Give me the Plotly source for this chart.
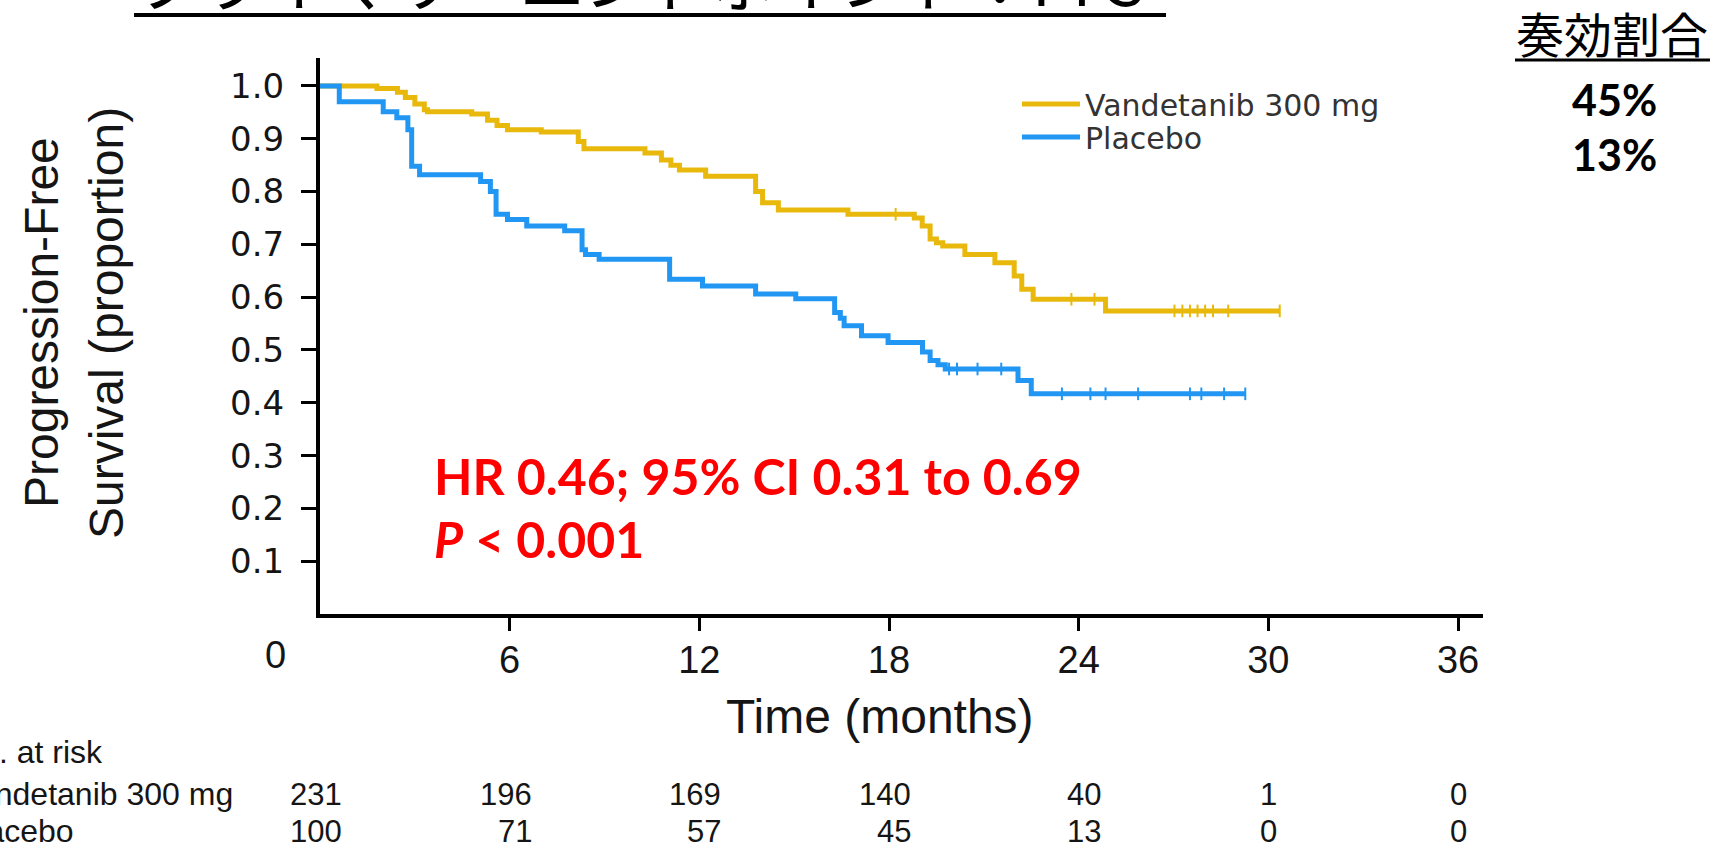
import numpy as np
import plotly.graph_objects as go

# ---------------- data ----------------
vand_t = [0, 1.8, 2.45, 2.7, 3.0, 3.3, 3.4, 4.8, 5.3, 5.6, 5.93, 7.0, 8.17, 8.35,
          10.28, 10.8, 11.1, 11.37, 12.2, 13.78, 14.0, 14.5, 16.7, 18.8, 19.05,
          19.3, 19.5, 19.7, 20.4, 21.35, 21.96, 22.2, 22.56, 24.85, 30.36]
vand_s = [1.0, 0.995, 0.988, 0.978, 0.966, 0.955, 0.951, 0.947, 0.935, 0.925, 0.917,
          0.913, 0.895, 0.881, 0.873, 0.86, 0.85, 0.841, 0.829, 0.80, 0.779, 0.765,
          0.757, 0.75, 0.735, 0.71, 0.703, 0.697, 0.681, 0.665, 0.64, 0.615, 0.596,
          0.574, 0.574]
plac_t = [0, 0.61, 2.0, 2.43, 2.78, 2.9, 3.15, 5.08, 5.39, 5.57, 5.93, 6.54, 7.74,
          8.29, 8.4, 8.83, 11.06, 12.1, 13.78, 15.05, 16.28, 16.46, 16.58, 17.13,
          17.97, 19.06, 19.3, 19.55, 19.78, 22.08, 22.5, 29.27]
plac_s = [1.0, 0.970, 0.951, 0.94, 0.917, 0.848, 0.832, 0.819, 0.80, 0.757, 0.747,
          0.735, 0.726, 0.69, 0.681, 0.672, 0.634, 0.621, 0.606, 0.597, 0.571, 0.56,
          0.546, 0.527, 0.514, 0.496, 0.48, 0.472, 0.464, 0.442, 0.417, 0.417]
vand_censor = [18.21, 23.77, 24.5, 27.03, 27.28, 27.52, 27.76, 28.0, 28.25, 28.73, 30.36]
plac_censor = [19.9, 20.15, 20.8, 21.55, 23.47, 24.37, 24.85, 25.88, 27.52, 27.88, 28.6, 29.27]

risk_times = [0, 6, 12, 18, 24, 30, 36]
risk_vand = [231, 196, 169, 140, 40, 1, 0]
risk_plac = [100, 71, 57, 45, 13, 0, 0]
x_ticks = [6, 12, 18, 24, 30, 36]
y_ticks = [0.1, 0.2, 0.3, 0.4, 0.5, 0.6, 0.7, 0.8, 0.9, 1.0]

YELLOW = "#E8B90C"
BLUE = "#2196F3"
TXT = "#151515"

def step_at(ts, ss, t):
    i = np.searchsorted(np.array(ts), t, side="right") - 1
    return ss[max(i, 0)]

L, R, T, B = 320, 1483, 58, 614
W, H = 1719, 843
PW, PH = R - L, B - T

def px(x):
    return (x - L) / PW

def py(y):
    return (B - y) / PH

fig = go.Figure()
fig.add_trace(go.Scatter(x=vand_t, y=vand_s, mode="lines", line_shape="hv",
                         line=dict(color=YELLOW, width=5), name="Vandetanib 300 mg",
                         legend="legend"))
fig.add_trace(go.Scatter(x=plac_t, y=plac_s, mode="lines", line_shape="hv",
                         line=dict(color=BLUE, width=5), name="Placebo",
                         legend="legend2"))
fig.add_trace(go.Scatter(x=vand_censor, y=[step_at(vand_t, vand_s, t) for t in vand_censor],
                         mode="markers", showlegend=False,
                         marker=dict(symbol="line-ns", size=9, line=dict(color=YELLOW, width=2))))
fig.add_trace(go.Scatter(x=plac_censor, y=[step_at(plac_t, plac_s, t) for t in plac_censor],
                         mode="markers", showlegend=False,
                         marker=dict(symbol="line-ns", size=9, line=dict(color=BLUE, width=2))))

leg_common = dict(xanchor="left", yanchor="middle",
                  font=dict(family="DejaVu Sans", size=30, color="#333333"),
                  bgcolor="rgba(0,0,0,0)", borderwidth=0, itemwidth=58)

fig.update_layout(
    width=W, height=H,
    margin=dict(l=L, r=W - R, t=T, b=H - B, pad=0),
    paper_bgcolor="white", plot_bgcolor="white",
    showlegend=True,
    legend=dict(x=px(1017), y=py(104), **leg_common),
    legend2=dict(x=px(1017), y=py(137), **leg_common),
    xaxis=dict(range=[0, 36.79], tickvals=x_ticks, ticks="outside", ticklen=13,
               tickwidth=3, tickcolor="black", showline=True, linecolor="black",
               linewidth=4, showgrid=False, zeroline=False,
               tickfont=dict(family="Liberation Sans", size=38, color=TXT),
               ticklabelstandoff=-4),
    yaxis=dict(range=[0, 1.053], tickvals=y_ticks, tickformat=".1f", ticks="outside",
               ticklen=15, tickwidth=3, tickcolor="black", showline=True,
               linecolor="black", linewidth=4, showgrid=False, zeroline=False,
               tickfont=dict(family="DejaVu Sans", size=34, color=TXT),
               ticklabelstandoff=10),
)

ann = []
# y axis title (two lines)
ann.append(dict(text="Progression-Free", xref="paper", yref="paper", x=px(41), y=py(323),
                textangle=-90, showarrow=False, xanchor="center", yanchor="middle",
                font=dict(family="Liberation Sans", size=48, color=TXT)))
ann.append(dict(text="Survival (proportion)", xref="paper", yref="paper", x=px(106), y=py(323),
                textangle=-90, showarrow=False, xanchor="center", yanchor="middle",
                font=dict(family="Liberation Sans", size=48, color=TXT)))
# x axis title
ann.append(dict(text="Time (months)", xref="paper", yref="paper", x=px(880), y=py(716),
                showarrow=False, xanchor="center", yanchor="middle",
                font=dict(family="Liberation Sans", size=48, color=TXT)))
# origin label
ann.append(dict(text="0", xref="paper", yref="paper", x=px(275), y=py(655),
                showarrow=False, xanchor="center", yanchor="middle",
                font=dict(family="Liberation Sans", size=38, color=TXT)))
# HR text
ann.append(dict(text="<b>HR 0.46; 95% CI 0.31 to 0.69</b>", xref="paper", yref="paper",
                x=px(432), y=py(476), showarrow=False, xanchor="left", yanchor="middle",
                font=dict(family="Lato", size=50, color="#FF0000")))
ann.append(dict(text="<b><i>P</i> &lt; 0.001</b>", xref="paper", yref="paper",
                x=px(432), y=py(539), showarrow=False, xanchor="left", yanchor="middle",
                font=dict(family="Lato", size=50, color="#FF0000")))
# number at risk table
row_font = dict(family="Liberation Sans", size=32, color=TXT)
for label, yy in [("No. at risk", 752), ("Vandetanib 300 mg", 794), ("Placebo", 831)]:
    ann.append(dict(text=label, xref="paper", yref="paper", x=px(-44), y=py(yy),
                    showarrow=False, xanchor="left", yanchor="middle", font=row_font))
for t, v, p in zip(risk_times, risk_vand, risk_plac):
    multi = max(v, p) >= 10
    for val, yy in [(v, 794), (p, 831)]:
        ann.append(dict(text=str(val), xref="x", yref="paper", x=t, y=py(yy),
                        showarrow=False, xanchor="right" if multi else "center",
                        xshift=24 if multi else 0, yanchor="middle",
                        font=dict(family="Liberation Sans", size=31, color=TXT)))
# title (cropped at top)
ann.append(dict(text="プライマリーエンドポイント：PFS", xref="paper", yref="paper",
                x=px(134), y=py(26), showarrow=False, xanchor="left", yanchor="bottom",
                font=dict(family="Noto Sans CJK JP", size=64, color="black")))
# response rate box
ann.append(dict(text="奏効割合", xref="paper", yref="paper", x=px(1612), y=py(32),
                showarrow=False, xanchor="center", yanchor="middle",
                font=dict(family="Noto Sans CJK JP", size=48, color="black")))
ann.append(dict(text="<b>45%</b>", xref="paper", yref="paper", x=px(1614), y=py(100),
                showarrow=False, xanchor="center", yanchor="middle",
                font=dict(family="Lato", size=43, color="black")))
ann.append(dict(text="<b>13%</b>", xref="paper", yref="paper", x=px(1614), y=py(154),
                showarrow=False, xanchor="center", yanchor="middle",
                font=dict(family="Lato", size=43, color="black")))
fig.update_layout(annotations=ann)

# underlines
fig.add_shape(type="line", xref="paper", yref="paper", x0=px(134), x1=px(1166),
              y0=py(15), y1=py(15), line=dict(color="black", width=4))
fig.add_shape(type="line", xref="paper", yref="paper", x0=px(1515), x1=px(1710),
              y0=py(60), y1=py(60), line=dict(color="black", width=3))

fig.write_html("out.html")
